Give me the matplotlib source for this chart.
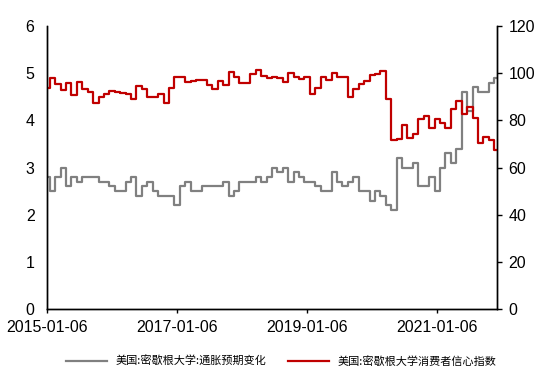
import numpy as np
import matplotlib
matplotlib.use("Agg")
from matplotlib import pyplot as plt

plt.rcParams['font.family'] = ['Liberation Sans', 'Noto Sans CJK SC', 'DejaVu Sans']

# 月度数据（2014-12 ~ 2021-11）
infl_exp = [2.8,
            2.5, 2.8, 3.0, 2.6, 2.8, 2.7, 2.8, 2.8, 2.8, 2.7, 2.7, 2.6,
            2.5, 2.5, 2.7, 2.8, 2.4, 2.6, 2.7, 2.5, 2.4, 2.4, 2.4, 2.2,
            2.6, 2.7, 2.5, 2.5, 2.6, 2.6, 2.6, 2.6, 2.7, 2.4, 2.5, 2.7,
            2.7, 2.7, 2.8, 2.7, 2.8, 3.0, 2.9, 3.0, 2.7, 2.9, 2.8, 2.7,
            2.7, 2.6, 2.5, 2.5, 2.9, 2.7, 2.6, 2.7, 2.8, 2.5, 2.5, 2.3,
            2.5, 2.4, 2.2, 2.1, 3.2, 3.0, 3.0, 3.1, 2.6, 2.6, 2.8, 2.5,
            3.0, 3.3, 3.1, 3.4, 4.6, 4.2, 4.7, 4.6, 4.6, 4.8, 4.9]
sentiment = [93.6,
             98.1, 95.4, 93.0, 95.9, 90.7, 96.1, 93.1, 91.9, 87.2, 90.0, 91.3, 92.6,
             92.0, 91.7, 91.0, 89.0, 94.7, 93.5, 90.0, 89.8, 91.2, 87.2, 93.8, 98.2,
             98.5, 96.3, 96.9, 97.0, 97.1, 95.1, 93.4, 96.8, 95.1, 100.7, 98.5, 95.9,
             95.7, 99.7, 101.4, 98.8, 98.0, 98.2, 97.9, 96.2, 100.1, 98.6, 97.5, 98.3,
             91.2, 93.8, 98.4, 97.2, 100.0, 98.2, 98.4, 89.8, 93.2, 95.5, 96.8, 99.3,
             99.8, 101.0, 89.1, 71.8, 72.3, 78.1, 72.5, 74.1, 80.4, 81.8, 76.9, 80.7,
             79.0, 76.8, 84.9, 88.3, 82.9, 85.5, 81.2, 70.3, 72.8, 71.7, 67.4]
tick_pos = [0, 24, 48, 72]
tick_labels = ["2015-01-06", "2017-01-06", "2019-01-06", "2021-01-06"]
names = ["美国:密歇根大学:通胀预期变化", "美国:密歇根大学消费者信心指数"]

x = np.arange(len(infl_exp))

fig = plt.figure(figsize=(5.5, 3.83), dpi=100)
ax = fig.add_axes([0.0855, 0.193, 0.818, 0.739])
ax2 = ax.twinx()

l1, = ax.step(x, infl_exp, where='mid', color='#808080', lw=1.6)
l2, = ax2.step(x, sentiment, where='mid', color='#C00000', lw=1.6)

ax.set_xlim(0, len(x) - 1)
ax.set_ylim(0, 6)
ax2.set_ylim(0, 120)
ax.set_yticks(range(0, 7))
ax2.set_yticks(range(0, 121, 20))
ax.set_xticks(tick_pos)
ax.set_xticklabels(tick_labels)

for a in (ax, ax2):
    a.spines['top'].set_visible(False)
    for s in a.spines.values():
        s.set_linewidth(1.0)
ax.tick_params(axis='y', length=0, pad=9, labelsize=11.5)
ax.tick_params(axis='x', length=3, width=1, pad=5, labelsize=11.5)
ax2.tick_params(axis='y', length=3.5, width=1, pad=5, labelsize=11.5)

fig.legend([l1, l2], names, loc='center', bbox_to_anchor=(0.511, 0.057), ncol=2,
           frameon=False, handlelength=3.7, handletextpad=0.7, columnspacing=2.0,
           prop={'family': ['Noto Sans CJK SC'], 'size': 8})

fig.savefig("out.png", dpi=100)
